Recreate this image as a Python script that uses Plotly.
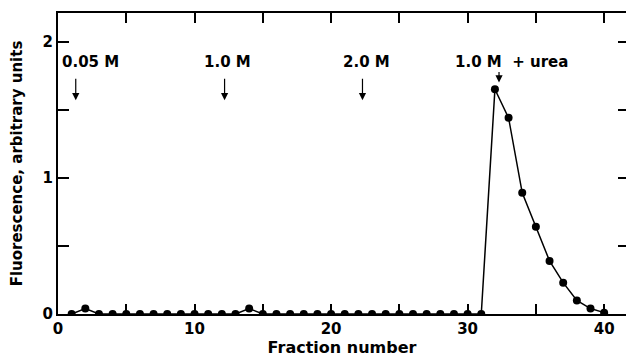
import plotly.graph_objects as go

# Data
fraction = list(range(1, 41))
fluorescence = [0.00, 0.04, 0.00, 0.00, 0.00, 0.00, 0.00, 0.00, 0.00, 0.00,
                0.00, 0.00, 0.00, 0.04, 0.00, 0.00, 0.00, 0.00, 0.00, 0.00,
                0.00, 0.00, 0.00, 0.00, 0.00, 0.00, 0.00, 0.00, 0.00, 0.00,
                0.00, 1.65, 1.44, 0.89, 0.64, 0.39, 0.23, 0.10, 0.04, 0.01]

x_tickvals = [0, 5, 10, 15, 20, 25, 30, 35, 40]
x_ticktext = ["0", "", "10", "", "20", "", "30", "", "40"]
y_tickvals = [0, 0.5, 1, 1.5, 2]
y_ticktext = ["0", "", "1", "", "2"]

step_labels = ["0.05 M", "1.0 M", "2.0 M", "1.0 M  + urea"]
label_x = [2.4, 12.4, 22.6, 33.2]
arrow_x = [1.3, 12.2, 22.3, 32.3]
arrow_tip_y = [1.57, 1.57, 1.57, 1.70]
arrow_len = [23, 23, 23, 12]

FONT = "DejaVu Sans"
X_RANGE = [0, 41.6]
Y_RANGE = [0, 2.21]

fig = go.Figure()
fig.add_trace(go.Scatter(
    x=fraction, y=fluorescence, mode="lines+markers",
    line=dict(color="black", width=1.5),
    marker=dict(color="black", size=8),
    cliponaxis=True, showlegend=False, hoverinfo="skip",
))
# invisible trace on the mirrored axes so they are drawn
fig.add_trace(go.Scatter(
    x=fraction, y=fluorescence, mode="lines", xaxis="x2", yaxis="y2",
    line=dict(color="rgba(0,0,0,0)", width=0), showlegend=False, hoverinfo="skip",
))

for lab, lx in zip(step_labels, label_x):
    fig.add_annotation(x=lx, y=1.85, text=lab, showarrow=False,
                       font=dict(family=FONT, size=15, color="black", weight="bold"),
                       xanchor="center", yanchor="middle")
for axx, ty, ln in zip(arrow_x, arrow_tip_y, arrow_len):
    fig.add_annotation(x=axx, y=ty, text="", showarrow=True, ax=0, ay=-ln,
                       arrowhead=2, arrowsize=1.2, arrowwidth=1.2, arrowcolor="black")

fig.update_layout(
    width=627, height=358,
    margin=dict(l=58, r=1, t=13, b=44),
    paper_bgcolor="white", plot_bgcolor="white",
    font=dict(family=FONT, color="black"),
    xaxis=dict(
        range=X_RANGE, tickvals=x_tickvals, ticktext=x_ticktext,
        ticks="inside", ticklen=10, tickwidth=1.5, tickcolor="black",
        showline=True, linecolor="black", linewidth=2, showgrid=False, zeroline=False,
        tickfont=dict(family=FONT, size=15, weight="bold"),
        title=dict(text="Fraction number", font=dict(family=FONT, size=16, weight="bold"), standoff=5),
    ),
    xaxis2=dict(
        range=X_RANGE, overlaying="x", side="top", tickvals=x_tickvals[1:],
        ticks="inside", ticklen=10, tickwidth=1.5, tickcolor="black",
        showticklabels=False, showline=True, linecolor="black", linewidth=2,
        showgrid=False, zeroline=False,
    ),
    yaxis=dict(
        range=Y_RANGE, tickvals=y_tickvals, ticktext=y_ticktext,
        ticks="inside", ticklen=11, tickwidth=1.5, tickcolor="black",
        showline=True, linecolor="black", linewidth=2, showgrid=False, zeroline=False,
        tickfont=dict(family=FONT, size=15, weight="bold"),
        title=dict(text="Fluorescence, arbitrary units", font=dict(family=FONT, size=15, weight="bold"), standoff=16),
    ),
    yaxis2=dict(
        range=Y_RANGE, overlaying="y", side="right", tickvals=y_tickvals[1:],
        ticks="inside", ticklen=8, tickwidth=1.5, tickcolor="black",
        showticklabels=False, showline=False, showgrid=False, zeroline=False,
    ),
)

fig.write_html("out.html")
